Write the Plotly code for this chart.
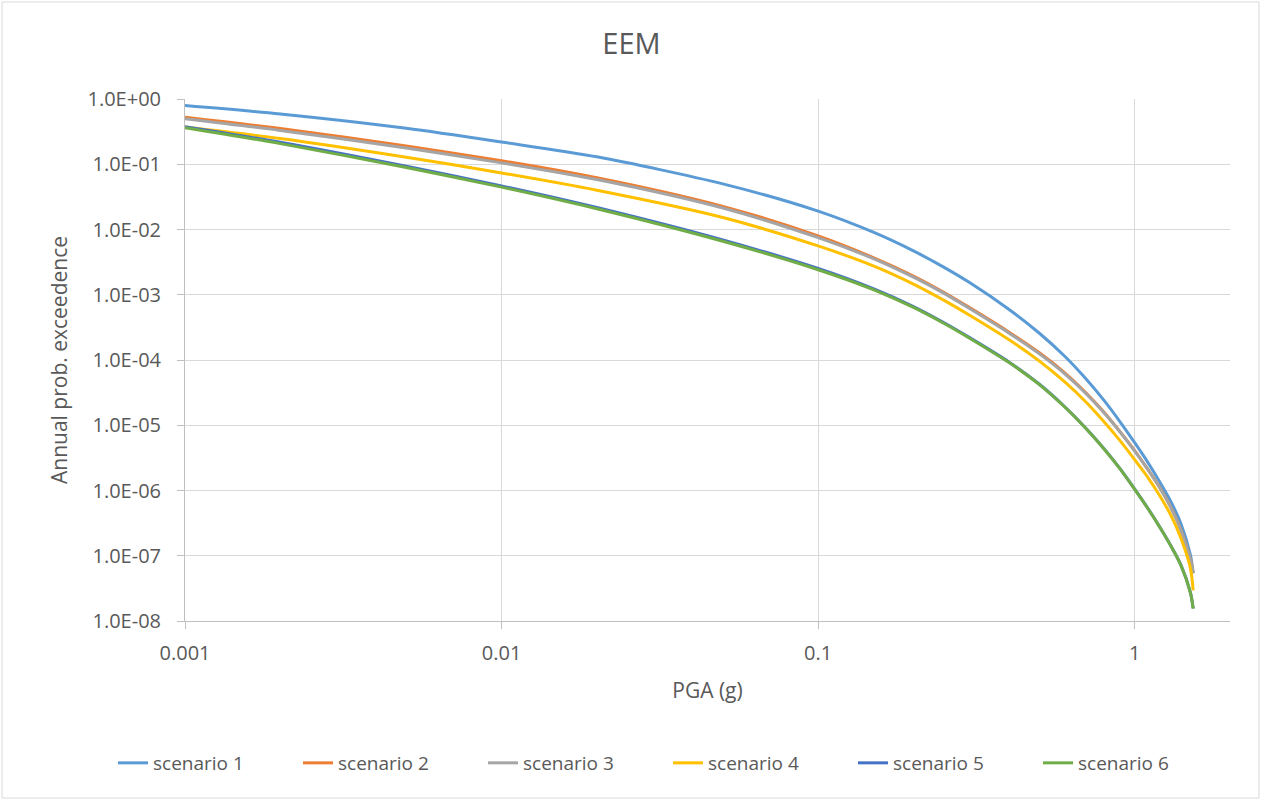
import plotly.graph_objects as go

# PGA (g)
pga = [0.001, 0.002, 0.005, 0.01, 0.02, 0.05, 0.1, 0.15, 0.2, 0.25, 0.3, 0.4,
       0.5, 0.6, 0.7, 0.8, 0.9, 1.0, 1.1, 1.2, 1.3, 1.4, 1.5, 1.53]

scenario_1 = [0.794, 0.590, 0.356, 0.219, 0.130, 0.050, 0.0191, 9.0e-3, 4.7e-3, 2.63e-3, 1.55e-3, 6.0e-4,
              2.57e-4, 1.15e-4, 5.2e-5, 2.4e-5, 1.12e-5, 5.4e-6, 2.7e-6, 1.35e-6, 6.8e-7, 3.1e-7, 1.02e-7, 5.4e-8]
scenario_2 = [0.527, 0.354, 0.190, 0.113, 0.0622, 0.0226, 7.96e-3, 3.67e-3, 1.93e-3, 1.08e-3, 6.4e-4, 2.69e-4,
              1.29e-4, 6.4e-5, 3.16e-5, 1.58e-5, 7.9e-6, 4.1e-6, 2.11e-6, 1.11e-6, 5.56e-7, 2.48e-7, 8.8e-8, 5.4e-8]
scenario_3 = [0.50, 0.330, 0.177, 0.105, 0.0583, 0.0213, 7.5e-3, 3.55e-3, 1.86e-3, 1.05e-3, 6.2e-4, 2.6e-4,
              1.24e-4, 6.2e-5, 3.1e-5, 1.55e-5, 7.8e-6, 4.0e-6, 2.1e-6, 1.1e-6, 5.5e-7, 2.45e-7, 8.7e-8, 5.4e-8]
scenario_4 = [0.372, 0.248, 0.128, 0.0736, 0.040, 0.0153, 5.6e-3, 2.75e-3, 1.46e-3, 8.2e-4, 4.9e-4, 2.06e-4,
              9.6e-5, 4.65e-5, 2.29e-5, 1.13e-5, 5.75e-6, 2.96e-6, 1.59e-6, 8.3e-7, 4.2e-7, 1.86e-7, 6.4e-8, 2.95e-8]
scenario_5 = [0.375, 0.217, 0.093, 0.0466, 0.0217, 6.9e-3, 2.53e-3, 1.23e-3, 6.6e-4, 3.72e-4, 2.22e-4, 9.35e-5,
              4.25e-5, 1.94e-5, 9.1e-6, 4.38e-6, 2.14e-6, 1.05e-6, 5.35e-7, 2.76e-7, 1.43e-7, 7.2e-8, 2.72e-8, 1.56e-8]
scenario_6 = [0.363, 0.207, 0.089, 0.0446, 0.0208, 6.6e-3, 2.42e-3, 1.19e-3, 6.4e-4, 3.63e-4, 2.18e-4, 9.2e-5,
              4.2e-5, 1.92e-5, 9.0e-6, 4.33e-6, 2.12e-6, 1.04e-6, 5.3e-7, 2.74e-7, 1.42e-7, 7.1e-8, 2.7e-8, 1.55e-8]

series_names = ["scenario 1", "scenario 2", "scenario 3", "scenario 4", "scenario 5", "scenario 6"]
series_values = [scenario_1, scenario_2, scenario_3, scenario_4, scenario_5, scenario_6]
colors = ["#5B9BD5", "#ED7D31", "#A5A5A5", "#FFC000", "#4472C4", "#70AD47"]

x_tickvals = [0.001, 0.01, 0.1, 1]
x_ticktext = ["0.001", "0.01", "0.1", "1"]
y_tickvals = [1e0, 1e-1, 1e-2, 1e-3, 1e-4, 1e-5, 1e-6, 1e-7, 1e-8]
y_ticktext = ["1.0E+00", "1.0E-01", "1.0E-02", "1.0E-03", "1.0E-04",
              "1.0E-05", "1.0E-06", "1.0E-07", "1.0E-08"]

FONT = "Open Sans"
TXT = "#595959"

fig = go.Figure()
for name, vals, col in zip(series_names, series_values, colors):
    fig.add_trace(go.Scatter(
        x=pga, y=vals, name=name, mode="lines",
        line=dict(color=col, width=3, shape="spline", smoothing=0.8),
    ))

W, H = 1263, 803
L, R, T, B = 185, 33, 99, 182
pw, ph = W - L - R, H - T - B

def px_to_paper_x(px):
    return (px - L) / pw

def px_to_paper_y(py):
    return (H - B - py) / ph

fig.update_layout(
    width=W, height=H,
    margin=dict(l=L, r=R, t=T, b=B, autoexpand=False),
    paper_bgcolor="white", plot_bgcolor="white",
    font=dict(family=FONT, color=TXT, size=20),
    title=dict(text="EEM", x=0.5, xref="container", xanchor="center",
               y=1 - 44 / H, yref="container", yanchor="middle",
               font=dict(size=29, color=TXT, family=FONT)),
    showlegend=True,
    legend=dict(orientation="h", xref="paper", yref="paper",
                x=px_to_paper_x(113), xanchor="left",
                y=px_to_paper_y(763), yanchor="middle",
                font=dict(size=19, color=TXT, family=FONT),
                entrywidth=140, entrywidthmode="pixels",
                bgcolor="rgba(0,0,0,0)"),
    shapes=[dict(type="rect", xref="paper", yref="paper",
                 x0=px_to_paper_x(2), x1=px_to_paper_x(1259),
                 y0=px_to_paper_y(798), y1=px_to_paper_y(2),
                 line=dict(color="#d9d9d9", width=1), fillcolor="rgba(0,0,0,0)",
                 layer="below")],
)

fig.update_xaxes(
    type="log", range=[-3, 0.30103],
    tickvals=x_tickvals, ticktext=x_ticktext,
    showgrid=True, gridcolor="#d9d9d9", gridwidth=1,
    showline=True, linecolor="#bfbfbf", linewidth=1,
    ticks="outside", ticklen=7, tickcolor="#bfbfbf",
    tickfont=dict(size=20, color=TXT, family=FONT),
    ticklabelstandoff=7,
    zeroline=False,
    title=dict(text="PGA (g)", font=dict(size=21, color=TXT, family=FONT), standoff=18),
)
fig.update_yaxes(
    type="log", range=[-8, 0],
    tickvals=y_tickvals, ticktext=y_ticktext,
    showgrid=True, gridcolor="#d9d9d9", gridwidth=1,
    showline=True, linecolor="#bfbfbf", linewidth=1,
    ticks="outside", ticklen=7, tickcolor="#bfbfbf",
    tickfont=dict(size=20, color=TXT, family=FONT),
    ticklabelstandoff=12,
    zeroline=False,
    title=dict(text="Annual prob. exceedence", font=dict(size=21, color=TXT, family=FONT), standoff=14),
)

fig.write_html("out.html", config={"displayModeBar": False},
               post_script="document.body.style.margin='0';")
